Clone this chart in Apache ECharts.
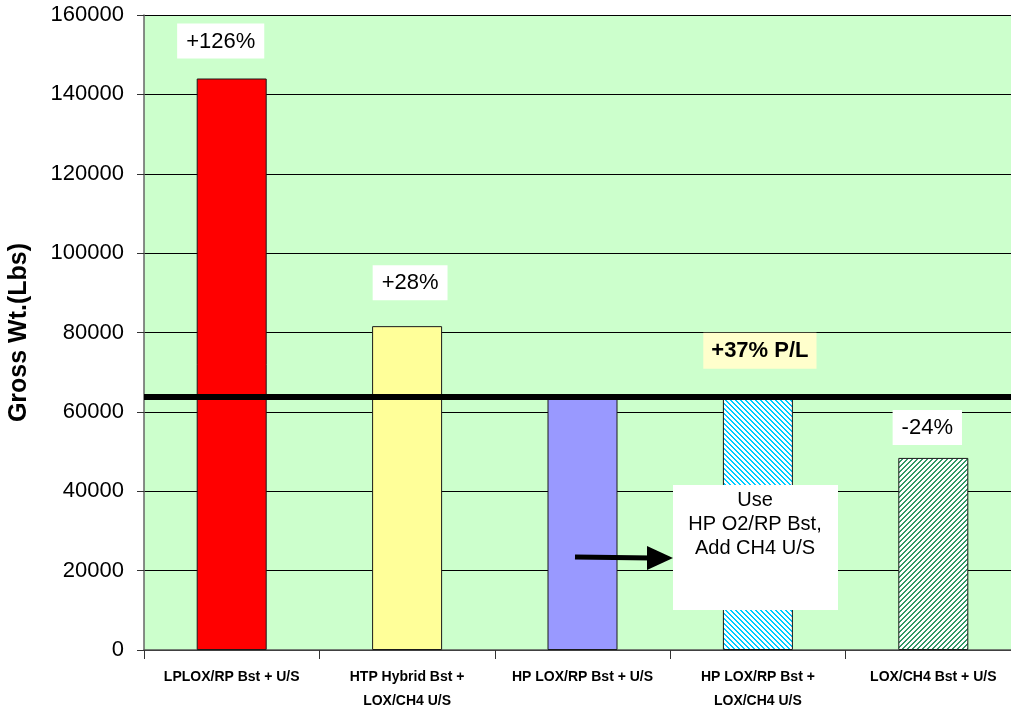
<!DOCTYPE html>
<html>
<head>
<meta charset="utf-8">
<title>Gross Weight by Vehicle Configuration</title>
<script src="https://cdn.jsdelivr.net/npm/echarts@6/dist/echarts.min.js"></script>
<style>
  html, body { margin: 0; padding: 0; background: #ffffff; }
  #chart { width: 1011px; height: 710px; }
</style>
</head>
<body>
<div id="chart"></div>
<script>
// Vehicle configurations and their gross lift-off weights (lbs)
const categories = [
  'LPLOX/RP Bst + U/S',
  'HTP Hybrid Bst +\nLOX/CH4 U/S',
  'HP LOX/RP Bst + U/S',
  'HP LOX/RP Bst +\nLOX/CH4 U/S',
  'LOX/CH4 Bst + U/S'
];
const grossWeight = [144000, 81600, 63800, 63800, 48400];
// Change relative to the HP LOX/RP baseline
const changeLabels = ['+126%', '+28%', '', '+37% P/L', '-24%'];
const baselineWeight = 63800;
const yMin = 0;
const yMax = 160000;
const yStep = 20000;
const yTitle = 'Gross Wt.(Lbs)';
const noteLines = ['Use', 'HP O2/RP Bst,', 'Add CH4 U/S'];

const FONT = "'Liberation Sans', Arial, Helvetica, sans-serif";
const NARROW = "'Liberation Sans Narrow', 'Arial Narrow', 'Liberation Sans', Arial, sans-serif";

// Diagonal stripe fill, drawn pixel by pixel on a small tile
function stripeTile(color, rising) {
  const n = 5;
  const c = document.createElement('canvas');
  c.width = n; c.height = n;
  const ctx = c.getContext('2d');
  ctx.fillStyle = '#ffffff';
  ctx.fillRect(0, 0, n, n);
  ctx.fillStyle = color;
  for (let x = 0; x < n; x++) {
    for (let y = 0; y < n; y++) {
      const k = rising ? (x + y) % n : ((x - y) % n + n) % n;
      if (k < 2) ctx.fillRect(x, y, 1, 1);
    }
  }
  return { image: c, repeat: 'repeat' };
}

const fills = [
  '#FF0000',
  '#FFFF99',
  '#9999FF',
  stripeTile('#00CCFF', false),
  stripeTile('#339966', true)
];

// Per-bar placement of the change boxes
const labelPlacement = [
  { distance: 20, offset: [-11, 0] },
  { distance: 26, offset: [3, 0] },
  { distance: 20, offset: [0, 0] },
  { distance: 28, offset: [2, 0] },
  { distance: 13, offset: [-6, 0] }
];

const barData = grossWeight.map((v, i) => {
  const isPayload = i === 3;
  return {
    value: v,
    itemStyle: { color: fills[i], borderColor: '#1a1a1a', borderWidth: 1 },
    label: {
      show: changeLabels[i] !== '',
      position: 'top',
      distance: labelPlacement[i].distance,
      offset: labelPlacement[i].offset,
      formatter: () => changeLabels[i],
      fontFamily: FONT,
      fontSize: 22,
      fontWeight: isPayload ? 'bold' : 'normal',
      color: '#000',
      backgroundColor: isPayload ? '#FFFFCC' : '#FFFFFF',
      padding: isPayload ? [7, 8, 7, 8] : [7, 9, 6, 9]
    }
  };
});

const chart = echarts.init(document.getElementById('chart'), null, { renderer: 'canvas' });

chart.setOption({
  animation: false,
  backgroundColor: '#ffffff',
  grid: {
    left: 144, top: 15, width: 877, height: 635,
    containLabel: false,
    outerBoundsMode: 'none',
    show: true, backgroundColor: '#CCFFCC', borderWidth: 0
  },
  xAxis: {
    type: 'category',
    data: categories,
    axisLine: { show: true, lineStyle: { color: '#555', width: 1.5 } },
    axisTick: { show: true, length: 9, lineStyle: { color: '#333' } },
    axisLabel: {
      fontFamily: NARROW, fontSize: 14, fontWeight: 'bold', color: '#000',
      margin: 15, lineHeight: 24, interval: 0
    },
    splitLine: { show: false }
  },
  yAxis: {
    type: 'value',
    min: yMin, max: yMax, interval: yStep,
    name: yTitle,
    nameLocation: 'middle',
    nameGap: 112,
    nameTextStyle: { fontFamily: FONT, fontSize: 25, fontWeight: 'bold', color: '#000' },
    axisLine: { show: true, lineStyle: { color: '#666', width: 1.5 } },
    axisTick: { show: true, length: 7, lineStyle: { color: '#333' } },
    axisLabel: {
      fontFamily: FONT, fontSize: 22, color: '#000', margin: 20,
      formatter: (v) => String(v)
    },
    splitLine: { show: true, lineStyle: { color: '#000', width: 1 } }
  },
  series: [{
    type: 'bar',
    data: barData,
    barWidth: 70,
    markLine: {
      silent: true,
      symbol: ['none', 'none'],
      label: { show: false },
      lineStyle: { color: '#000', width: 6, type: 'solid' },
      data: [{ yAxis: baselineWeight }]
    }
  }],
  graphic: [
    // explanatory note and arrow
    {
      type: 'rect', z: 100,
      shape: { x: 673, y: 485, width: 165, height: 125 },
      style: { fill: '#ffffff' }
    },
    {
      type: 'text', z: 101,
      x: 755, y: 488,
      style: {
        text: noteLines.join('\n'),
        align: 'center', verticalAlign: 'top',
        lineHeight: 24,
        font: "20px " + FONT,
        fill: '#000'
      }
    },
    {
      type: 'line', z: 101,
      shape: { x1: 575, y1: 557, x2: 652, y2: 558 },
      style: { stroke: '#000', lineWidth: 5 }
    },
    {
      type: 'polygon', z: 101,
      shape: { points: [[647, 546], [673, 558], [647, 570]] },
      style: { fill: '#000' }
    }
  ]
});
</script>
</body>
</html>
